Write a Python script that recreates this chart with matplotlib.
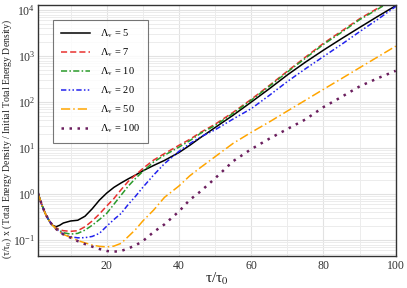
import numpy as np
import matplotlib
matplotlib.use('Agg')
import matplotlib.pyplot as plt
from matplotlib.ticker import MultipleLocator, LogLocator, NullFormatter

plt.rcParams['font.family'] = ['Liberation Serif', 'DejaVu Serif']
plt.rcParams['mathtext.fontset'] = 'stix'

t = [1, 2, 3, 4, 5, 6, 7, 8, 10, 12, 14, 16, 18, 20, 22, 24, 26, 28, 30, 33,
     36, 40, 43, 46, 50, 55, 60, 65, 70, 75, 80, 85, 90, 95, 100]

lam5 = [1.05, 0.6, 0.38, 0.27, 0.21, 0.195, 0.21, 0.235, 0.26, 0.27, 0.33, 0.48,
        0.74, 1.05, 1.4, 1.75, 2.15, 2.6, 3.2, 4.2, 5.4, 8.0, 11.5, 17, 28, 52,
        100, 195, 390, 740, 1350, 2400, 4200, 7300, 12500]
lam7 = [1.05, 0.6, 0.38, 0.27, 0.215, 0.185, 0.168, 0.16, 0.155, 0.16, 0.195, 0.26,
        0.37, 0.55, 0.8, 1.25, 1.9, 2.6, 3.6, 5.5, 7.6, 11.5, 15.5, 22, 33, 60,
        115, 230, 470, 950, 1900, 3500, 6500, 11000, 19000]
lam10 = [1.05, 0.6, 0.38, 0.27, 0.21, 0.18, 0.16, 0.145, 0.135, 0.14, 0.165, 0.21,
         0.28, 0.38, 0.6, 0.95, 1.5, 2.2, 3.1, 5.0, 7.0, 10.5, 14.5, 21, 31, 57,
         110, 220, 450, 900, 1800, 3300, 6200, 10500, 18000]
lam20 = [1.05, 0.6, 0.38, 0.27, 0.21, 0.175, 0.152, 0.135, 0.118, 0.112, 0.113, 0.12,
         0.14, 0.2, 0.28, 0.38, 0.6, 0.9, 1.4, 2.6, 4.6, 8.5, 12.5, 17.5, 25, 43,
         72, 140, 280, 530, 980, 1800, 3400, 6300, 12000]
lam50 = [1.05, 0.6, 0.38, 0.27, 0.21, 0.175, 0.15, 0.133, 0.115, 0.098, 0.087, 0.078,
         0.073, 0.071, 0.074, 0.085, 0.12, 0.17, 0.26, 0.45, 0.85, 1.5, 2.5, 3.8, 6.5, 12.7,
         22, 37, 64, 110, 190, 325, 560, 960, 1650]
lam100 = [1.05, 0.6, 0.38, 0.27, 0.21, 0.175, 0.15, 0.133, 0.113, 0.095, 0.082, 0.072,
          0.064, 0.058, 0.056, 0.058, 0.066, 0.077, 0.095, 0.15, 0.22, 0.42, 0.75, 1.15, 2.2, 5.2,
          9.5, 16, 26, 42, 78, 130, 220, 330, 480]

labels = ['5', '7', '10', '20', '50', '100']
series = [lam5, lam7, lam10, lam20, lam50, lam100]
colors = ['black', '#e8312f', '#2a9a2a', '#2222ee', '#ffa500', '#6b1f5e']
styles = ['-', (0, (4, 2)), (0, (4, 1.5, 1, 1.5)), (0, (3.5, 1.5, 1, 1.5, 1, 1.5)),
          (0, (6, 2, 1, 2)), (0, (1, 2.2))]
widths = [1.1, 1.1, 1.1, 1.1, 1.1, 1.8]

fig = plt.figure(figsize=(4.07, 2.88), dpi=100)
ax = fig.add_axes([0.0934, 0.111, 0.879, 0.872])

for vals, lab, c, ls, lw in zip(series, labels, colors, styles, widths):
    ax.plot(t, vals, color=c, linestyle=ls, linewidth=lw, label='Λ$_\\mathrm{v}$ = ' + lab)

ax.set_yscale('log')
ax.set_xlim(1, 100)
ax.set_ylim(0.045, 1.3e4)
ax.xaxis.set_major_locator(MultipleLocator(20))
ax.xaxis.set_minor_locator(MultipleLocator(10))
ax.yaxis.set_major_locator(LogLocator(base=10, numticks=10))
ax.yaxis.set_minor_locator(LogLocator(base=10, subs=np.arange(2, 10), numticks=50))
ax.yaxis.set_minor_formatter(NullFormatter())
ax.grid(True, which='major', color='#e2e2e2', linewidth=0.8)
ax.grid(True, which='minor', color='#ececec', linewidth=0.7)
ax.set_axisbelow(True)
ax.tick_params(which='both', length=0, labelsize=8.5, colors='#333333', pad=3)
ax.tick_params(axis='y', pad=2)
for s in ax.spines.values():
    s.set_color('#333333')
    s.set_linewidth(1.0)

fig.text(217 / 407, 1 - 279 / 288, 'τ/τ$_\\mathrm{0}$', fontsize=11, ha='center', va='center',
         color='#222222')
fig.text(7 / 407, 1 - 139 / 288,
         '(τ/τ$_\\mathrm{0}$) x (Total Energy Density / Initial Total Energy Density)',
         fontsize=7, rotation=90, ha='center', va='center', color='#222222')

leg = ax.legend(loc='upper left', bbox_to_anchor=(0.042, 0.94), borderaxespad=0, fontsize=7.5,
                frameon=True, fancybox=False, edgecolor='#555555', handlelength=2.8,
                labelspacing=0.62, borderpad=0.75, handletextpad=1.0)
leg.get_frame().set_linewidth(0.8)

fig.savefig('out.png', dpi=100)
